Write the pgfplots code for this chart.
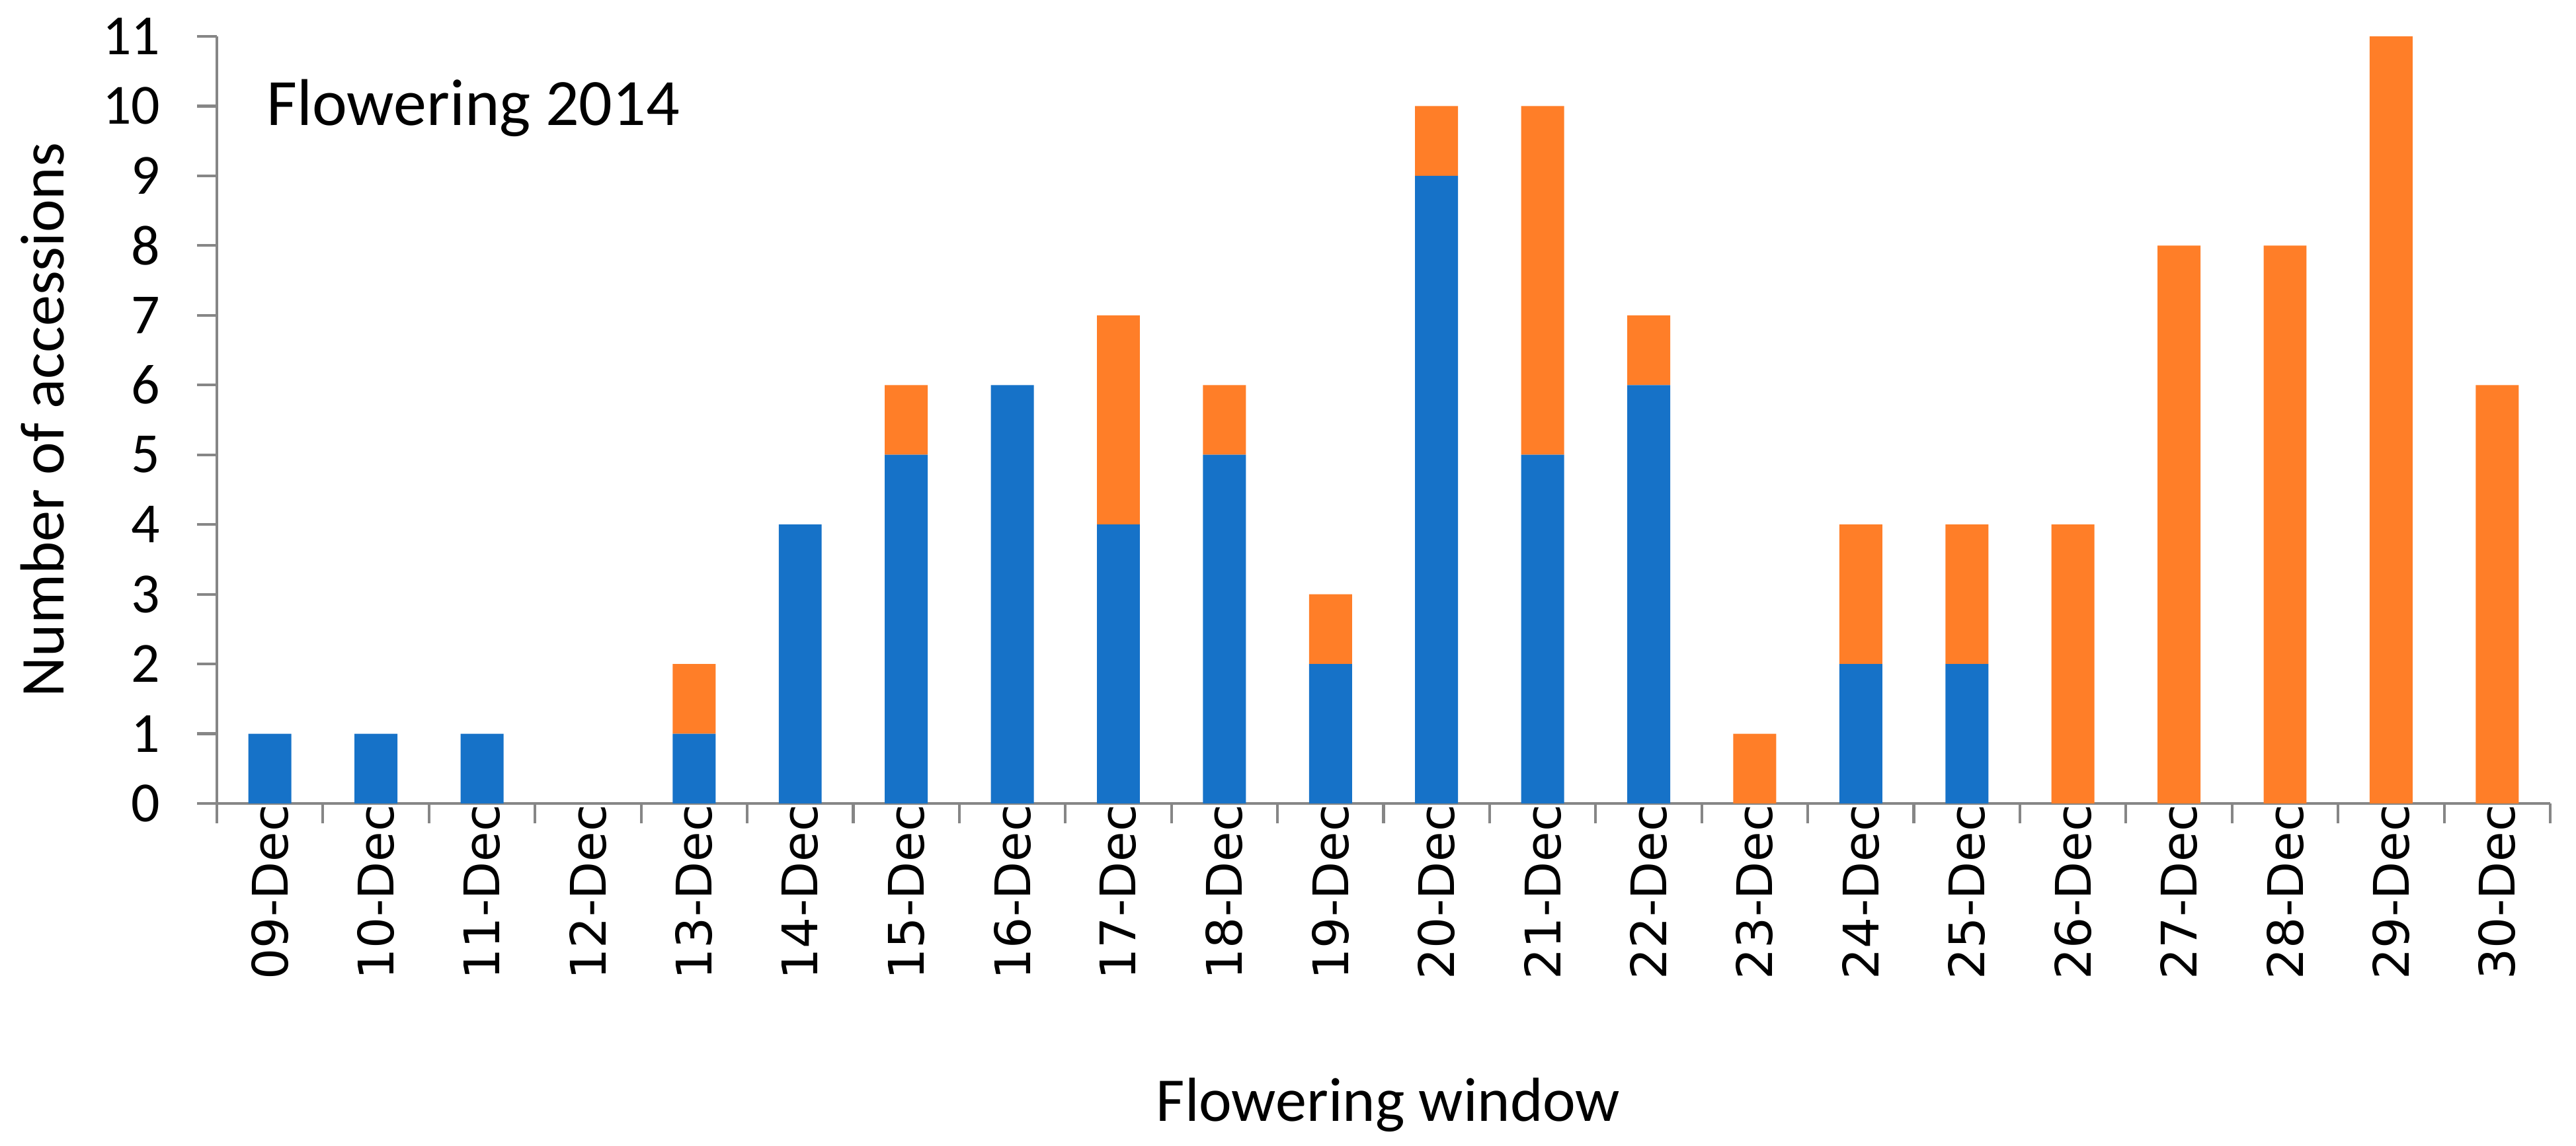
\documentclass[border=0pt]{standalone}
\usepackage{pgfplots}
\pgfplotsset{compat=1.18}
\usepackage{fontspec}
\setmainfont{Carlito}
\newfontfamily\dejavu{DejaVu Sans}
\newcommand{\dl}[1]{{\dejavu\fontsize{8.9}{10}\selectfont #1}}
\definecolor{barblue}{HTML}{1672C8}
\definecolor{barorange}{HTML}{FF7E28}
\definecolor{axgray}{HTML}{868686}
\begin{document}
\begin{tikzpicture}
\path[use as bounding box] (-39.36pt,-62.16pt) rectangle (428.16pt,145.8pt);
\begin{axis}[
  at={(0,0)}, anchor=south west,
  scale only axis, width=423.48pt, height=139.2pt,
  ybar stacked, bar width=0.405,
  xmin=-0.5, xmax=21.5, ymin=0, ymax=11,
  axis x line*=bottom, axis y line*=left,
  axis line style={axgray, line width=0.5pt},
  tick style={axgray, line width=0.5pt},
  tick align=outside,
  major tick length=3.6pt,
  ytick={0,...,11},
  xtick={-0.5,0.5,...,21.5},
  xticklabels={},
  extra x ticks={0,...,21},
  extra x tick labels={\dl{09-Dec},\dl{10-Dec},\dl{11-Dec},\dl{12-Dec},\dl{13-Dec},\dl{14-Dec},\dl{15-Dec},\dl{16-Dec},\dl{17-Dec},\dl{18-Dec},\dl{19-Dec},\dl{20-Dec},\dl{21-Dec},\dl{22-Dec},\dl{23-Dec},\dl{24-Dec},\dl{25-Dec},\dl{26-Dec},\dl{27-Dec},\dl{28-Dec},\dl{29-Dec},\dl{30-Dec}},
  extra x tick style={major tick length=0pt},
  xticklabel style={rotate=90, anchor=east, inner sep=0pt},
  yticklabel style={anchor=east, inner sep=0pt, xshift=-6.5pt, font=\fontsize{10.3}{12}\selectfont},
  /pgf/number format/assume math mode=true,
  xlabel={Flowering window},
  ylabel={Number of accessions},
  xlabel style={at={(axis description cs:0.502,-0.4138)}, anchor=base, font=\fontsize{11.3}{13}\selectfont},
  ylabel style={at={(axis description cs:-0.0656,0.5)}, anchor=base, rotate=0, font=\fontsize{11.3}{13}\selectfont},
]
\addplot[fill=barblue, draw=none] coordinates {
(0,1) (1,1) (2,1) (3,0) (4,1) (5,4) (6,5) (7,6) (8,4) (9,5) (10,2)
(11,9) (12,5) (13,6) (14,0) (15,2) (16,2) (17,0) (18,0) (19,0) (20,0) (21,0)};
\addplot[fill=barorange, draw=none] coordinates {
(0,0) (1,0) (2,0) (3,0) (4,1) (5,0) (6,1) (7,0) (8,3) (9,1) (10,1)
(11,1) (12,5) (13,1) (14,1) (15,2) (16,2) (17,4) (18,8) (19,8) (20,11) (21,6)};
\node[anchor=base west, inner sep=0pt, font=\fontsize{12}{14}\selectfont] at (axis description cs:0.0210,0.8836) {Flowering 2014};
\end{axis}
\end{tikzpicture}
\end{document}
